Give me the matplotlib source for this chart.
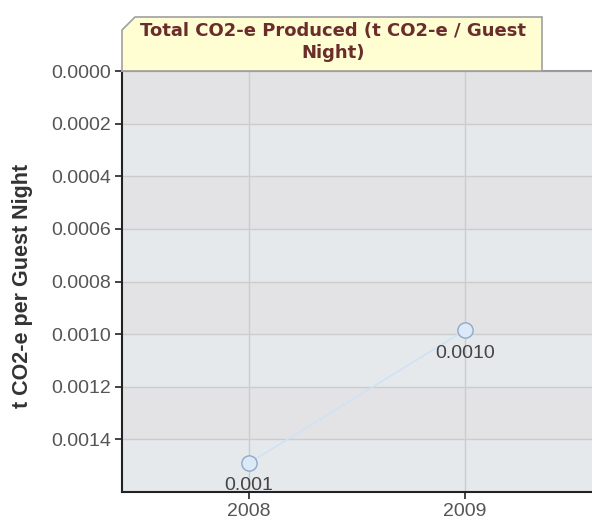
import numpy as np
import matplotlib
matplotlib.use("Agg")
import matplotlib.pyplot as plt
from matplotlib.patches import Polygon

# data
years = ["2008", "2009"]
values = [0.00149, 0.000985]
point_labels = ["0.001", "0.0010"]
y_ticks = [0.0, 0.0002, 0.0004, 0.0006, 0.0008, 0.0010, 0.0012, 0.0014]
title = "Total CO2-e Produced (t CO2-e / Guest\nNight)"
y_label = "t CO2-e per Guest Night"

W, H = 592, 525
fig = plt.figure(figsize=(W / 100, H / 100), dpi=100)
ax = fig.add_axes([122 / W, 1 - 492 / H, (592 - 122) / W, (492 - 71) / H])

x = np.arange(len(years))
ax.set_xlim(-0.588, 1.588)
ax.set_ylim(0.0016, 0.0)

# alternating background bands
band_edges = np.arange(0, 0.0016 + 1e-9, 0.0002)
for i in range(len(band_edges) - 1):
    c = "#e3e3e5" if i % 2 == 0 else "#e6e9ec"
    ax.axhspan(band_edges[i], band_edges[i + 1], color=c, zorder=0, lw=0)

ax.set_yticks(y_ticks)
ax.set_yticklabels([f"{v:.4f}" for v in y_ticks])
ax.set_xticks(x)
ax.set_xticklabels(years)
ax.grid(True, color="#cccccc", lw=1, zorder=1)
ax.set_axisbelow(True)

ax.plot(x, values, color="#cfe2f6", lw=1.2, zorder=3)
ax.plot(x, values, "o", ms=11, mfc="#dce9f8", mec="#8fa9c8", mew=1.0, zorder=4)
for xi, v, lab in zip(x, values, point_labels):
    ax.annotate(lab, (xi, v), xytext=(0, -16.5), textcoords="offset points",
                ha="center", va="center", fontsize=14, color="#444444",
                family="Liberation Sans", zorder=5)

ax.spines["right"].set_visible(False)
ax.spines["top"].set_color("#999999")
ax.spines["top"].set_linewidth(1.5)
for s in ["left", "bottom"]:
    ax.spines[s].set_color("#222222")
    ax.spines[s].set_linewidth(1.5)
ax.tick_params(axis="both", colors="#222222", labelcolor="#555555",
               labelsize=14, length=5, width=1.2, pad=3)
for t in ax.get_xticklabels() + ax.get_yticklabels():
    t.set_family("Liberation Sans")

ax.set_ylabel(y_label, fontsize=15.5, fontweight="bold", color="#333333",
              family="Liberation Sans")
ax.yaxis.set_label_coords(-0.19, 0.49)

# title tab with chamfered corner
pts = [(122, 71), (122, 30), (135, 17), (542, 17), (542, 71)]
poly = Polygon([(px / W, 1 - py / H) for px, py in pts], closed=True,
               transform=fig.transFigure, facecolor="#fffdd2",
               edgecolor="#a0a0a0", lw=1.2)
fig.patches.append(poly)
fig.text(333 / W, 1 - 42 / H, title, ha="center", va="center",
         fontsize=13, fontweight="bold", color="#6b2c2c",
         family="DejaVu Sans", linespacing=1.3)

fig.savefig("out.png", dpi=100)
